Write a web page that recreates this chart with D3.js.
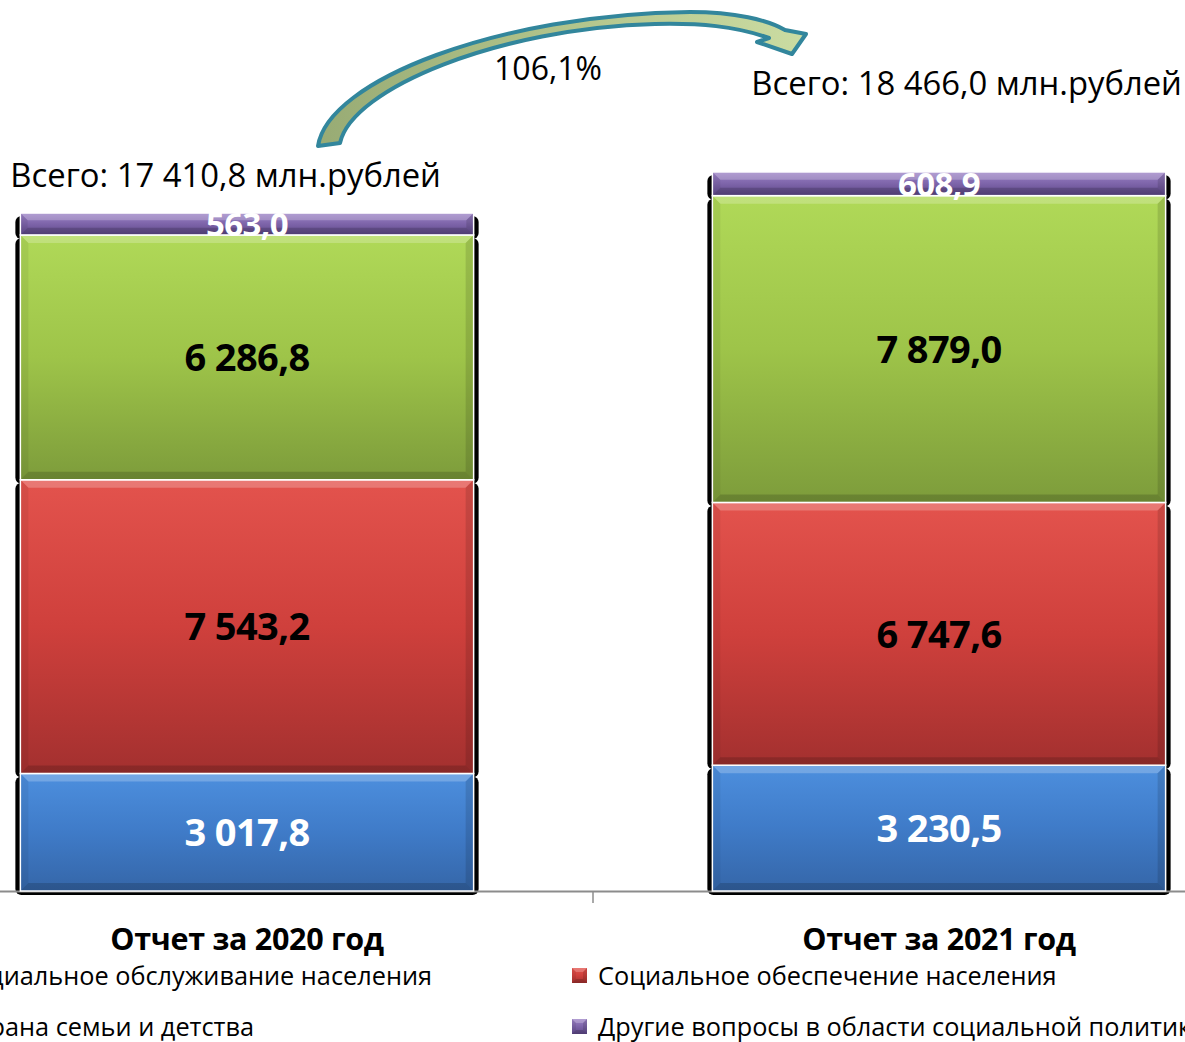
<!DOCTYPE html>
<html>
<head>
<meta charset="utf-8">
<script src="https://cdn.jsdelivr.net/npm/d3@7"></script>
<style>
  body { margin: 0; background: #fff; overflow: hidden; }
  svg { display: block; }
</style>
</head>
<body>
<div id="chart"></div>
<script>
// data (млн.рублей)
const categories = ["Отчет за 2020 год", "Отчет за 2021 год"];
const seriesNames = [
  "Социальное обслуживание населения",
  "Социальное обеспечение населения",
  "Охрана семьи и детства",
  "Другие вопросы в области социальной политики"
];
const obsluzhivanie = [3017.8, 3230.5];
const obespechenie = [7543.2, 6747.6];
const okhrana = [6286.8, 7879.0];
const drugie = [563.0, 608.9];
const totals = [17410.8, 18466.0];
const growth = "106,1%";

const seriesColors = [
  {top: "#4d8fde", mid: "#3f7bc8", bot: "#3566a8", label: "#fff"},
  {top: "#e3534d", mid: "#cf403c", bot: "#a3302f", label: "#000"},
  {top: "#b0d958", mid: "#9ec449", bot: "#7d9c3b", label: "#000"},
  {top: "#9c82c6", mid: "#7d64a9", bot: "#5e4889", label: "#fff"}
];

const width = 1185, height = 1042;
const baseY = 891;

const ru = d3.formatLocale({decimal: ",", thousands: " ", grouping: [3], currency: ["", ""]});
const fmt = ru.format(",.1f");

const keys = ["s0", "s1", "s2", "s3"];
const table = categories.map((c, i) => ({
  cat: c, s0: obsluzhivanie[i], s1: obespechenie[i], s2: okhrana[i], s3: drugie[i], total: totals[i]
}));
const stacked = d3.stack().keys(keys)(table);

const svg = d3.select("#chart").append("svg")
  .attr("width", width)
  .attr("height", height)
  .style("font-family", "'Open Sans', sans-serif");

const y = d3.scaleLinear().domain([0, 20000]).range([baseY, baseY - 20000 * 0.03894]);
const x = d3.scaleBand().domain(categories).range([-99, 1285])
  .paddingInner(0.345).paddingOuter(0.1725);

// gradients
const defs = svg.append("defs");
seriesColors.forEach((c, i) => {
  const g = defs.append("linearGradient").attr("id", "grad" + i)
    .attr("x1", 0).attr("y1", 0).attr("x2", 0).attr("y2", 1);
  g.append("stop").attr("offset", "0%").attr("stop-color", c.top);
  g.append("stop").attr("offset", "50%").attr("stop-color", c.mid);
  g.append("stop").attr("offset", "100%").attr("stop-color", c.bot);
});
const arrowGrad = defs.append("linearGradient").attr("id", "arrowGrad")
  .attr("x1", 0).attr("y1", 0).attr("x2", 1).attr("y2", 0);
arrowGrad.append("stop").attr("offset", "0%").attr("stop-color", "#98ab74");
arrowGrad.append("stop").attr("offset", "100%").attr("stop-color", "#cbdca2");

function bevel(g, x0, y0, w, h, b) {
  g.append("polygon")
    .attr("points", [[x0, y0], [x0 + w, y0], [x0 + w - b, y0 + b], [x0 + b, y0 + b]].join(" "))
    .attr("fill", "#fff").attr("opacity", 0.22);
  g.append("polygon")
    .attr("points", [[x0, y0 + h], [x0 + w, y0 + h], [x0 + w - b, y0 + h - b], [x0 + b, y0 + h - b]].join(" "))
    .attr("fill", "#000").attr("opacity", 0.16);
  g.append("polygon")
    .attr("points", [[x0, y0], [x0 + b, y0 + b], [x0 + b, y0 + h - b], [x0, y0 + h]].join(" "))
    .attr("fill", "#000").attr("opacity", 0.06);
  g.append("polygon")
    .attr("points", [[x0 + w, y0], [x0 + w - b, y0 + b], [x0 + w - b, y0 + h - b], [x0 + w, y0 + h]].join(" "))
    .attr("fill", "#000").attr("opacity", 0.12);
}

// shadows behind segments
const shadowG = svg.append("g").attr("class", "shadows");
stacked.forEach(layer => {
  layer.forEach(d => {
    const x0 = x(d.data.cat), w = x.bandwidth();
    const yt = y(d[1]), h = y(d[0]) - y(d[1]);
    shadowG.append("rect")
      .attr("x", x0 - 5).attr("y", yt + 3)
      .attr("width", w + 10).attr("height", h + 1)
      .attr("rx", 6).attr("fill", "#000");
  });
});

// axis
const axisG = svg.append("g").attr("transform", `translate(0,${baseY})`)
  .call(d3.axisBottom(x).tickSizeInner(0).tickSizeOuter(0).tickPadding(0));
axisG.select(".domain").attr("stroke", "#8c8c8c").attr("stroke-width", 2);
axisG.selectAll(".tick text")
  .attr("y", 59).attr("dy", 0)
  .attr("font-size", 30.5).attr("font-weight", "bold")
  .attr("letter-spacing", -0.3)
  .attr("font-family", "'Open Sans', sans-serif")
  .attr("fill", "#000");
const boundary = x(categories[1]) - x.step() * x.paddingInner() / 2;
axisG.append("line").attr("x1", boundary).attr("x2", boundary)
  .attr("y1", 0).attr("y2", 12).attr("stroke", "#8c8c8c").attr("stroke-width", 1.5);

// segments
const barsG = svg.append("g").attr("class", "bars");
stacked.forEach((layer, i) => {
  layer.forEach(d => {
    const x0 = x(d.data.cat), w = x.bandwidth();
    const yt = y(d[1]), h = y(d[0]) - y(d[1]);
    const g = barsG.append("g");
    g.append("rect")
      .attr("x", x0).attr("y", yt).attr("width", w).attr("height", h)
      .attr("fill", `url(#grad${i})`);
    bevel(g, x0, yt, w, h, Math.min(8, h / 3));
    g.append("rect")
      .attr("x", x0).attr("y", yt).attr("width", w).attr("height", h)
      .attr("fill", "none").attr("stroke", "#fff").attr("stroke-width", 1.5);
  });
});

// segment labels
const labelsG = svg.append("g").attr("class", "labels");
stacked.forEach((layer, i) => {
  labelsG.selectAll(null).data(layer).join("text")
    .attr("x", d => x(d.data.cat) + x.bandwidth() / 2)
    .attr("y", d => (y(d[0]) + y(d[1])) / 2)
    .attr("dy", "0.36em")
    .attr("text-anchor", "middle")
    .attr("font-weight", "bold")
    .attr("font-size", i === 3 ? 33 : 38)
    .attr("letter-spacing", -0.6)
    .attr("fill", seriesColors[i].label)
    .text(d => fmt(d.data[keys[i]]));
});

// totals
const totalOffsets = [{dx: -10, dy: -26}, {dx: 39, dy: -77}];
svg.append("g").selectAll("text").data(table).join("text")
  .attr("x", (d, i) => x(d.cat) + totalOffsets[i].dx)
  .attr("y", (d, i) => y(d.total) + totalOffsets[i].dy)
  .attr("font-size", 32.8)
  .attr("fill", "#000")
  .text(d => "Всего: " + fmt(d.total) + " млн.рублей");

// growth arrow
const arrowPath = "M318,146 C328,80 500,14 690,12 C735,12 768,20 785,30 L806,34 L792,54 L757,42 L769,38 " +
  "C735,26 700,23 655,24 C500,28 352,88 340,143 Z";
svg.append("path").attr("d", arrowPath)
  .attr("fill", "url(#arrowGrad)")
  .attr("stroke", "#32869c").attr("stroke-width", 4).attr("stroke-linejoin", "round");
svg.append("text")
  .attr("x", 548).attr("y", 80)
  .attr("text-anchor", "middle")
  .attr("font-size", 32)
  .attr("fill", "#000")
  .text(growth);

// legend (two columns, row-major like the original)
const legendG = svg.append("g").attr("class", "legend");
const rowY = [976, 1027];
const legendItems = seriesNames.map((n, i) => ({name: n, i: i, col: i % 2, row: Math.floor(i / 2)}));
legendItems.forEach(it => {
  const g = legendG.append("g");
  const t = g.append("text")
    .attr("y", rowY[it.row]).attr("dy", "0.35em")
    .attr("font-size", 25.3).attr("fill", "#000")
    .text(it.name);
  let tx;
  if (it.col === 1) {
    tx = 598;
  } else {
    // left column is cut by the window; its first line ends at x≈432
    const firstLen = legendG.append("text").attr("font-size", 25.3)
      .text(seriesNames[0]);
    tx = 432 - firstLen.node().getComputedTextLength();
    firstLen.remove();
  }
  t.attr("x", tx);
  const mx = tx - 26, my = rowY[it.row] - 8;
  g.append("rect").attr("x", mx).attr("y", my).attr("width", 15).attr("height", 15)
    .attr("fill", `url(#grad${it.i})`);
  bevel(g, mx, my, 15, 15, 4);
});
</script>
</body>
</html>
